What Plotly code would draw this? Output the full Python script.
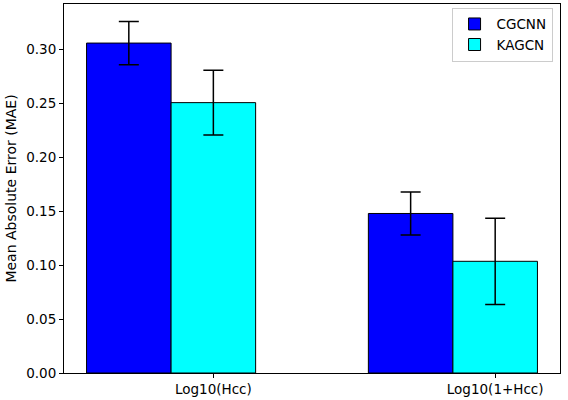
import plotly.graph_objects as go

targets = ["Log10(Hcc)", "Log10(1+Hcc)"]
cgcnn_mae = [0.3057, 0.1478]
cgcnn_err = [0.020, 0.020]
kagcn_mae = [0.2505, 0.1035]
kagcn_err = [0.030, 0.040]

width = 0.3
x = list(range(len(targets)))

fig = go.Figure()
fig.add_trace(go.Bar(
    x=[i - width / 2 for i in x], y=cgcnn_mae, width=width, name="CGCNN",
    marker=dict(color="#0000ff", line=dict(color="black", width=1)),
    error_y=dict(type="data", array=cgcnn_err, color="black", thickness=1.5, width=10)))
fig.add_trace(go.Bar(
    x=[i + width / 2 for i in x], y=kagcn_mae, width=width, name="KAGCN",
    marker=dict(color="#00ffff", line=dict(color="black", width=1)),
    error_y=dict(type="data", array=kagcn_err, color="black", thickness=1.5, width=10)))

fig.update_layout(
    width=568, height=400,
    margin=dict(l=64, r=8, t=4, b=27),
    plot_bgcolor="white", paper_bgcolor="white",
    font=dict(family="DejaVu Sans", size=13.5, color="black"),
    barmode="overlay",
    showlegend=True,
    legend=dict(x=0.985, y=0.99, xanchor="right", yanchor="top",
                bordercolor="#cccccc", borderwidth=1, bgcolor="white",
                font=dict(size=13.5), itemwidth=34, tracegroupgap=0),
)
fig.update_xaxes(
    range=[-0.38, 1.38], automargin=False,
    tickvals=[i + width / 2 for i in x], ticktext=targets,
    tickfont=dict(size=13.5),
    ticks="outside", ticklen=4, tickcolor="black",
    showline=True, linecolor="black", linewidth=1, mirror=True,
    showgrid=False, zeroline=False)
fig.update_yaxes(
    range=[0, 0.3419], dtick=0.05, tickformat=".2f", automargin=False,
    tickfont=dict(size=13.5),
    title=dict(text="Mean Absolute Error (MAE)", standoff=6, font=dict(size=14)),
    ticks="outside", ticklen=4, tickcolor="black",
    showline=True, linecolor="black", linewidth=1, mirror=True,
    showgrid=False, zeroline=False)

# page body margin would shift the figure by 8px
fig.write_html("out.html", config={"displayModeBar": False},
               post_script="document.body.style.margin='0px';")
